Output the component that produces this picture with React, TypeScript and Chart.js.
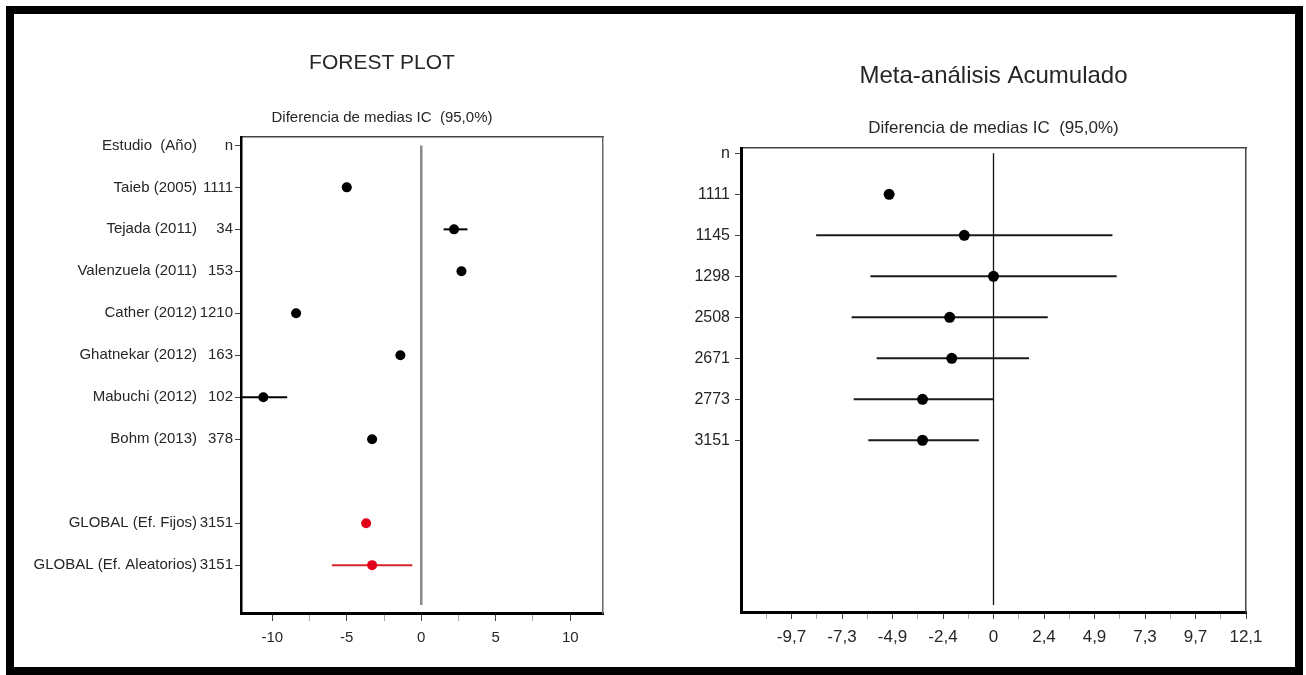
import React, { useEffect, useRef } from 'react';
import { Chart, registerables } from 'chart.js';

Chart.register(...registerables);

const FONT = "'Liberation Sans', Arial, Helvetica, sans-serif";
const TEXT = '#262626';

// ---------- FOREST PLOT data ----------
const headerName = 'Estudio  (Año)';
const headerN = 'n';
const studyNames = ['Taieb (2005)', 'Tejada (2011)', 'Valenzuela (2011)', 'Cather (2012)', 'Ghatnekar (2012)', 'Mabuchi (2012)', 'Bohm (2013)'];
const studyN = ['1111', '34', '153', '1210', '163', '102', '378'];
const studyMean = [-5.0, 2.2, 2.7, -8.4, -1.4, -10.6, -3.3];
const studyLow = [-5.3, 1.5, 2.4, -8.7, -1.7, -12.1, -3.6];
const studyHigh = [-4.7, 3.1, 3.0, -8.1, -1.1, -9.0, -3.0];
const globalNames = ['GLOBAL (Ef. Fijos)', 'GLOBAL (Ef. Aleatorios)'];
const globalN = ['3151', '3151'];
const globalMean = [-3.7, -3.3];
const globalLow = [-3.9, -6.0];
const globalHigh = [-3.5, -0.6];
const forestTicks = [-10, -7.5, -5, -2.5, 0, 2.5, 5, 7.5, 10];
const forestTickLabels = ['-10', '', '-5', '', '0', '', '5', '', '10'];

// ---------- Meta-análisis acumulado data ----------
const cumN = ['1111', '1145', '1298', '2508', '2671', '2773', '3151'];
const cumMean = [-5.0, -1.4, 0.0, -2.1, -2.0, -3.4, -3.4];
const cumLow = [-5.2, -8.5, -5.9, -6.8, -5.6, -6.7, -6.0];
const cumHigh = [-4.8, 5.7, 5.9, 2.6, 1.7, 0.0, -0.7];
const cumTicks = [-10.89, -9.68, -8.47, -7.26, -6.05, -4.84, -3.63, -2.42, -1.21, 0, 1.21, 2.42, 3.63, 4.84, 6.05, 7.26, 8.47, 9.68, 10.89, 12.1];
const cumTickLabels = ['', '-9,7', '', '-7,3', '', '-4,9', '', '-2,4', '', '0', '', '2,4', '', '4,9', '', '7,3', '', '9,7', '', '12,1'];

Chart.defaults.font.family = FONT;
Chart.defaults.color = TEXT;

function segment(lo: number, hi: number, row: number, color: string, width: number) {
  return {
    type: 'line' as const,
    data: [{ x: lo, y: row }, { x: hi, y: row }],
    borderColor: color,
    borderWidth: width,
    pointRadius: 0,
    showLine: true,
    fill: false,
    order: 1,
  };
}

function forestConfig(): any {
  const rowNames = [headerName, ...studyNames, '', ...globalNames];
  const rowNs = [headerN, ...studyN, '', ...globalN];
  const studyRows = studyNames.map((_, i) => i + 1);
  const globalRows = globalNames.map((_, i) => studyNames.length + 2 + i);
  const tickRows = rowNs.map((_, i) => i).filter((i) => rowNs[i] !== '');
  const yMin = -0.2;
  const yMax = 11.14;
  const xMin = -12.1;
  const xMax = 12.2;
  const zeroEnd = 10.95;

  const points = {
    type: 'scatter' as const,
    data: [
      ...studyMean.map((m, i) => ({ x: m, y: studyRows[i] })),
      ...globalMean.map((m, i) => ({ x: m, y: globalRows[i] })),
    ],
    backgroundColor: [...studyMean.map(() => '#000'), ...globalMean.map(() => '#e3001b')],
    borderColor: [...studyMean.map(() => '#000'), ...globalMean.map(() => '#e3001b')],
    pointRadius: 5,
    pointBorderWidth: 0,
    order: 0,
  };
  const cis = [
    ...studyLow.map((lo, i) => segment(lo, studyHigh[i], studyRows[i], '#000', 2)),
    ...globalLow.map((lo, i) => segment(lo, globalHigh[i], globalRows[i], '#d9232e', 2)),
  ];
  const zero = {
    type: 'line' as const,
    data: [{ x: 0, y: 0 }, { x: 0, y: zeroEnd }],
    borderColor: '#8a8a8a',
    borderWidth: 2.5,
    pointRadius: 0,
    showLine: true,
    order: 2,
  };

  return {
    type: 'scatter',
    data: { datasets: [points, ...cis, zero] },
    options: {
      responsive: false,
      animation: false,
      events: [],
      layout: { padding: { left: 10, right: 0, top: 0, bottom: 16 } },
      plugins: {
        legend: { display: false },
        tooltip: { enabled: false },
        title: {
          display: true,
          text: 'FOREST PLOT',
          font: { size: 21, weight: 'normal' },
          color: TEXT,
          padding: { top: 36.4, bottom: 0 },
        },
        subtitle: {
          display: true,
          text: 'Diferencia de medias IC  (95,0%)',
          font: { size: 15, weight: 'normal' },
          color: TEXT,
          padding: { top: 33.4, bottom: 10 },
        },
      },
      scales: {
        x: {
          type: 'linear',
          position: 'bottom',
          min: xMin,
          max: xMax,
          afterBuildTicks: (s: any) => { s.ticks = forestTicks.map((v) => ({ value: v })); },
          afterFit: (s: any) => { s.height = 40; },
          ticks: {
            callback: (_v: any, i: number) => forestTickLabels[i],
            font: { size: 15 },
            color: TEXT,
            padding: 8,
            autoSkip: false,
            maxRotation: 0,
          },
          grid: {
            drawOnChartArea: false,
            drawTicks: true,
            tickLength: 8,
            tickWidth: 1,
            tickColor: (ctx: any) => (forestTickLabels[ctx.index] ? '#444' : '#aaa'),
          },
          border: { display: true, color: '#000', width: 3 },
        },
        xTop: {
          type: 'linear',
          position: 'top',
          min: xMin,
          max: xMax,
          ticks: { display: false },
          grid: { display: true, drawOnChartArea: false, drawTicks: false },
          border: { display: true, color: '#444', width: 1.5 },
        },
        y: {
          type: 'linear',
          position: 'left',
          reverse: true,
          min: yMin,
          max: yMax,
          weight: 0,
          afterBuildTicks: (s: any) => { s.ticks = tickRows.map((v) => ({ value: v })); },
          afterFit: (s: any) => { s.width = 42; },
          ticks: {
            callback: (v: any) => rowNs[v] ?? '',
            font: { size: 15 },
            color: TEXT,
            padding: 2,
            autoSkip: false,
          },
          grid: { drawOnChartArea: false, drawTicks: true, tickLength: 6, tickWidth: 1, tickColor: '#444' },
          border: { display: true, color: '#000', width: 2.5 },
        },
        yName: {
          type: 'linear',
          position: 'left',
          reverse: true,
          min: yMin,
          max: yMax,
          weight: 1,
          afterBuildTicks: (s: any) => { s.ticks = tickRows.map((v) => ({ value: v })); },
          afterFit: (s: any) => { s.width = 175; },
          ticks: {
            callback: (v: any) => rowNames[v] ?? '',
            font: { size: 15 },
            color: TEXT,
            padding: 2,
            autoSkip: false,
          },
          grid: { display: false, drawOnChartArea: false, drawTicks: false },
          border: { display: false },
        },
        yRight: {
          type: 'linear',
          position: 'right',
          reverse: true,
          min: yMin,
          max: yMax,
          afterFit: (s: any) => { s.width = 137; },
          ticks: { display: false },
          grid: { display: true, drawOnChartArea: false, drawTicks: false },
          border: { display: true, color: '#666', width: 1.5 },
        },
      },
    },
  };
}

function cumConfig(): any {
  const rowNs = [headerN, ...cumN];
  const rows = cumN.map((_, i) => i + 1);
  const tickRows = rowNs.map((_, i) => i);
  const yMin = -0.13;
  const yMax = 11.19;
  const xMin = -12.1;
  const xMax = 12.1;
  const zeroEnd = 11.02;

  const points = {
    type: 'scatter' as const,
    data: cumMean.map((m, i) => ({ x: m, y: rows[i] })),
    backgroundColor: '#000',
    borderColor: '#000',
    pointRadius: 5.5,
    pointBorderWidth: 0,
    order: 0,
  };
  const cis = cumLow.map((lo, i) => segment(lo, cumHigh[i], rows[i], '#1a1a1a', 2));
  const zero = {
    type: 'line' as const,
    data: [{ x: 0, y: 0 }, { x: 0, y: zeroEnd }],
    borderColor: '#111',
    borderWidth: 1.3,
    pointRadius: 0,
    showLine: true,
    order: 2,
  };

  return {
    type: 'scatter',
    data: { datasets: [points, ...cis, zero] },
    options: {
      responsive: false,
      animation: false,
      events: [],
      layout: { padding: { left: 0, right: 50, top: 0, bottom: 17 } },
      plugins: {
        legend: { display: false },
        tooltip: { enabled: false },
        title: {
          display: true,
          text: 'Meta-análisis Acumulado',
          fullSize: false,
          font: { size: 24, weight: 'normal' },
          color: TEXT,
          padding: { top: 47.6, bottom: 0 },
        },
        subtitle: {
          display: true,
          fullSize: false,
          text: 'Diferencia de medias IC  (95,0%)',
          font: { size: 17, weight: 'normal' },
          color: TEXT,
          padding: { top: 27.4, bottom: 9.8 },
        },
      },
      scales: {
        x: {
          type: 'linear',
          position: 'bottom',
          min: xMin,
          max: xMax,
          afterBuildTicks: (s: any) => { s.ticks = cumTicks.map((v) => ({ value: v })); },
          afterFit: (s: any) => { s.height = 40; },
          ticks: {
            callback: (_v: any, i: number) => cumTickLabels[i],
            font: { size: 17 },
            color: TEXT,
            padding: 8,
            autoSkip: false,
            maxRotation: 0,
          },
          grid: {
            drawOnChartArea: false,
            drawTicks: true,
            tickLength: 7,
            tickWidth: 1,
            tickColor: (ctx: any) => (cumTickLabels[ctx.index] ? '#444' : '#aaa'),
          },
          border: { display: true, color: '#000', width: 3 },
        },
        xTop: {
          type: 'linear',
          position: 'top',
          min: xMin,
          max: xMax,
          ticks: { display: false },
          grid: { display: true, drawOnChartArea: false, drawTicks: false },
          border: { display: true, color: '#444', width: 1.5 },
        },
        y: {
          type: 'linear',
          position: 'left',
          reverse: true,
          min: yMin,
          max: yMax,
          afterBuildTicks: (s: any) => { s.ticks = tickRows.map((v) => ({ value: v })); },
          afterFit: (s: any) => { s.width = 91; },
          ticks: {
            callback: (v: any) => rowNs[v] ?? '',
            font: { size: 16 },
            color: TEXT,
            padding: 5,
            autoSkip: false,
          },
          grid: { drawOnChartArea: false, drawTicks: true, tickLength: 6, tickWidth: 1, tickColor: '#444' },
          border: { display: true, color: '#000', width: 3 },
        },
        yRight: {
          type: 'linear',
          position: 'right',
          reverse: true,
          min: yMin,
          max: yMax,
          ticks: { display: false },
          grid: { display: true, drawOnChartArea: false, drawTicks: false },
          border: { display: true, color: '#444', width: 1.5 },
        },
      },
    },
  };
}

function ChartCanvas({ config, left, top, width, height }: { config: () => any; left: number; top: number; width: number; height: number }) {
  const ref = useRef<HTMLCanvasElement | null>(null);
  useEffect(() => {
    if (!ref.current) return;
    const chart = new Chart(ref.current, config());
    return () => chart.destroy();
  }, [config]);
  return (
    <canvas
      ref={ref}
      width={width}
      height={height}
      style={{ position: 'absolute', left, top, width, height, display: 'block' }}
    />
  );
}

export default function App() {
  return (
    <div style={{ position: 'absolute', left: 0, top: 0, width: 1306, height: 675, background: '#fff', overflow: 'hidden' }}>
      <div
        style={{
          position: 'absolute',
          left: 6,
          top: 6,
          width: 1297,
          height: 669,
          border: '8px solid #000',
          boxSizing: 'border-box',
          background: '#fff',
        }}
      />
      <ChartCanvas config={forestConfig} left={14} top={14} width={726} height={655} />
      <ChartCanvas config={cumConfig} left={650} top={14} width={646} height={655} />
    </div>
  );
}
